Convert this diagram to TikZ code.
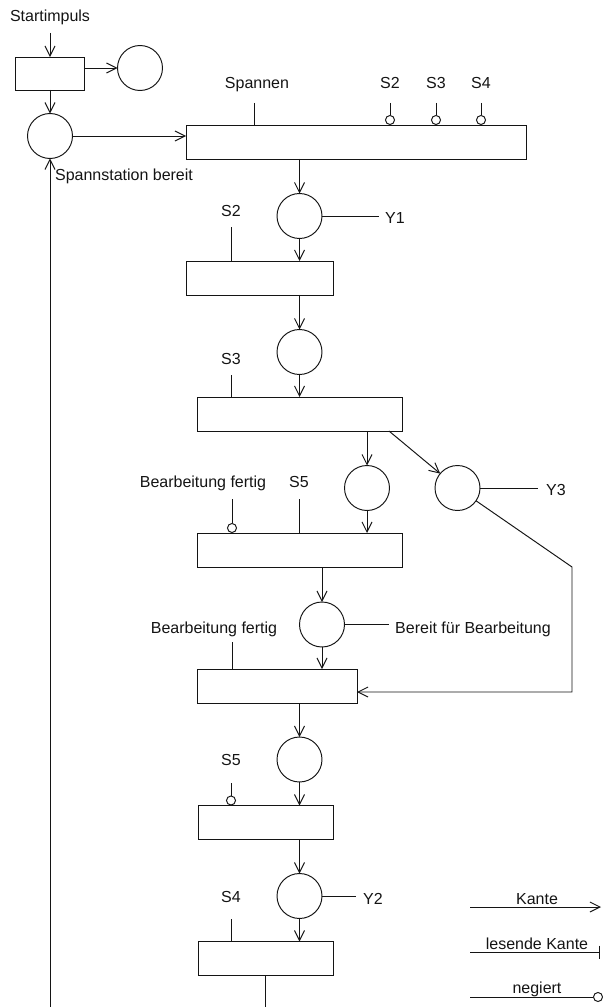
\documentclass[tikz,border=0pt]{standalone}
\usepackage{fontspec}
\setmainfont{Liberation Sans}
\usetikzlibrary{arrows.meta}
\definecolor{netblack}{RGB}{20,20,20}
\tikzset{
  place/.style={circle, draw=netblack, minimum size=0.9cm,
    inner sep=0pt, outer sep=0pt, line width=0.55pt},
  trans/.style={rectangle, draw=netblack, minimum height=0.68cm,
    inner sep=0pt, outer sep=0pt, line width=0.55pt},
  lbl/.style={anchor=base, inner sep=0pt, text=netblack,
    font=\fontsize{9.1}{11}\selectfont},
  arc/.style={-{Straight Barb[length=2mm,width=2mm]}, line width=0.55pt, color=netblack},
  readarc/.style={line width=0.55pt, color=netblack},
  negarc/.style={-{Circle[open,length=2mm]}, line width=0.55pt, color=netblack},
  legbar/.style={-{Bar[width=2.6mm]}, line width=0.55pt, color=netblack}
}

\begin{document}
\begin{tikzpicture}[x=0.02cm, y=-0.02cm]
  \useasboundingbox (0,0) rectangle (602,1007);

  % Places
  \node[place] (p1) at (140,68) {};
  \node[place] (p2) at (50,136) {};
  \node[place] (p3) at (299.5,216) {};
  \node[place] (p4) at (299.5,352) {};
  \node[place] (p5) at (367,488) {};
  \node[place] (p6) at (457.5,488) {};
  \node[place] (p7) at (322,624.5) {};
  \node[place] (p8) at (299.5,759.5) {};
  \node[place] (p9) at (299.5,896) {};

  % Transitions
  \node[trans, minimum width=1.38cm, minimum height=0.66cm] (t0) at (49.5,73.5) {};
  \node[trans, minimum width=6.82cm] (t1) at (356.5,142) {};
  \node[trans, minimum width=2.94cm] (t2) at (259.5,278) {};
  \node[trans, minimum width=4.1cm] (t3) at (299.5,414) {};
  \node[trans, minimum width=4.1cm] (t4) at (299.5,550) {};
  \node[trans, minimum width=3.2cm] (t5) at (277,686) {};
  \node[trans, minimum width=2.7cm] (t6) at (265.5,822.5) {};
  \node[trans, minimum width=2.7cm] (t7) at (265.5,958.5) {};

  % Labels
  \node[lbl] (lstart) at (50,22) {Startimpuls};
  \node[lbl] (lspann) at (257,89) {Spannen};
  \node[lbl] (lbereit) at (124,180) {Spannstation bereit};
  \node[lbl] (ly1) at (395,223) {Y1};
  \node[lbl] (lt2) at (231,216) {S2};
  \node[lbl] (lt3) at (231,364) {S3};
  \node[lbl] (lfertiga) at (203,487) {Bearbeitung fertig};
  \node[lbl] (lt4) at (299,487) {S5};
  \node[lbl] (ly3) at (556,495) {Y3};
  \node[lbl] (lfertigb) at (214,633) {Bearbeitung fertig};
  \node[lbl] (lbearb) at (473,633) {Bereit für Bearbeitung};
  \node[lbl] (lt6) at (231,765) {S5};
  \node[lbl] (lt7) at (231,902) {S4};
  \node[lbl] (ly2) at (373,904) {Y2};

  % Start and first steps
  \coordinate (start) at (50,33);
  \draw[arc] (start) -- (start |- t0.north);
  \draw[arc] (t0.east |- p1) -- (p1);
  \draw[arc] (t0.south -| p2) -- (p2);
  \draw[arc] (p2) -- (p2 -| t1.west);
  \coordinate (rspann) at (254,103);
  \draw[readarc] (rspann) -- (rspann |- t1.north);
  \foreach \x/\s in {390/S2,436/S3,481/S4} {
    \node[lbl] (l\s) at (\x,89) {\s};
    \coordinate (n\s) at (\x,103);
    \draw[negarc] (n\s) -- (n\s |- t1.north);
  }

  % Main chain
  \draw[arc] (t1.south -| p3) -- (p3);
  \draw[readarc] (p3) -- (379,216) coordinate (ey1);
  \draw[arc] (p3) -- (p3 |- t2.north);
  \coordinate (rt2) at (231,227);
  \draw[readarc] (rt2) -- (rt2 |- t2.north);
  \draw[arc] (t2.south -| p4) -- (p4);
  \draw[arc] (p4) -- (p4 |- t3.north);
  \coordinate (rt3) at (231,375);
  \draw[readarc] (rt3) -- (rt3 |- t3.north);

  % Branch
  \draw[arc] (t3.south -| p5) -- (p5);
  \draw[arc] ([xshift=-2.6mm]t3.south east) -- (p6);
  \draw[readarc] (p6) -- (538,488) coordinate (ey3);
  \coordinate (knee) at (572,567);
  \coordinate (bend) at (572,692);
  \draw[arc] (p6) -- (knee) -- (bend) -- (bend -| t5.east);
  \coordinate (nt4) at (232,499);
  \draw[negarc] (nt4) -- (nt4 |- t4.north);
  \coordinate (rt4) at (299,499);
  \draw[readarc] (rt4) -- (rt4 |- t4.north);
  \draw[arc] (p5) -- (p5 |- t4.north);
  \draw[arc] (t4.south -| p7) -- (p7);
  \draw[readarc] (p7) -- (389,624.5) coordinate (ebearb);
  \coordinate (rt5) at (232,642);
  \draw[readarc] (rt5) -- (rt5 |- t5.north);
  \draw[arc] (p7) -- (p7 |- t5.north);

  % Lower chain
  \draw[arc] (t5.south -| p8) -- (p8);
  \coordinate (nt6) at (231,783);
  \draw[negarc] (nt6) -- (nt6 |- t6.north);
  \draw[arc] (p8) -- (p8 |- t6.north);
  \draw[arc] (t6.south -| p9) -- (p9);
  \draw[readarc] (p9) -- (356,896) coordinate (ey2);
  \coordinate (rt7) at (231,919);
  \draw[readarc] (rt7) -- (rt7 |- t7.north);
  \draw[arc] (p9) -- (p9 |- t7.north);

  % Loop back
  \coordinate (back) at (50,1010);
  \draw[readarc] (t7.south) -- (t7.south |- back);
  \draw[arc] (back) -- (p2);

  % Legend
  \node[lbl] (lkante) at (537,904) {Kante};
  \node[lbl] (llesend) at (537,949) {lesende Kante};
  \node[lbl] (lneg) at (537,993) {negiert};
  \coordinate (ka) at (470,907);
  \coordinate (kb) at (601,907);
  \draw[arc] (ka) -- (kb);
  \coordinate (la) at (470,952);
  \coordinate (lb) at (600,952);
  \draw[legbar] (la) -- (lb);
  \coordinate (na) at (470,997);
  \coordinate (nb) at (603,997);
  \draw[negarc] (na) -- (nb);

\end{tikzpicture}
\end{document}
